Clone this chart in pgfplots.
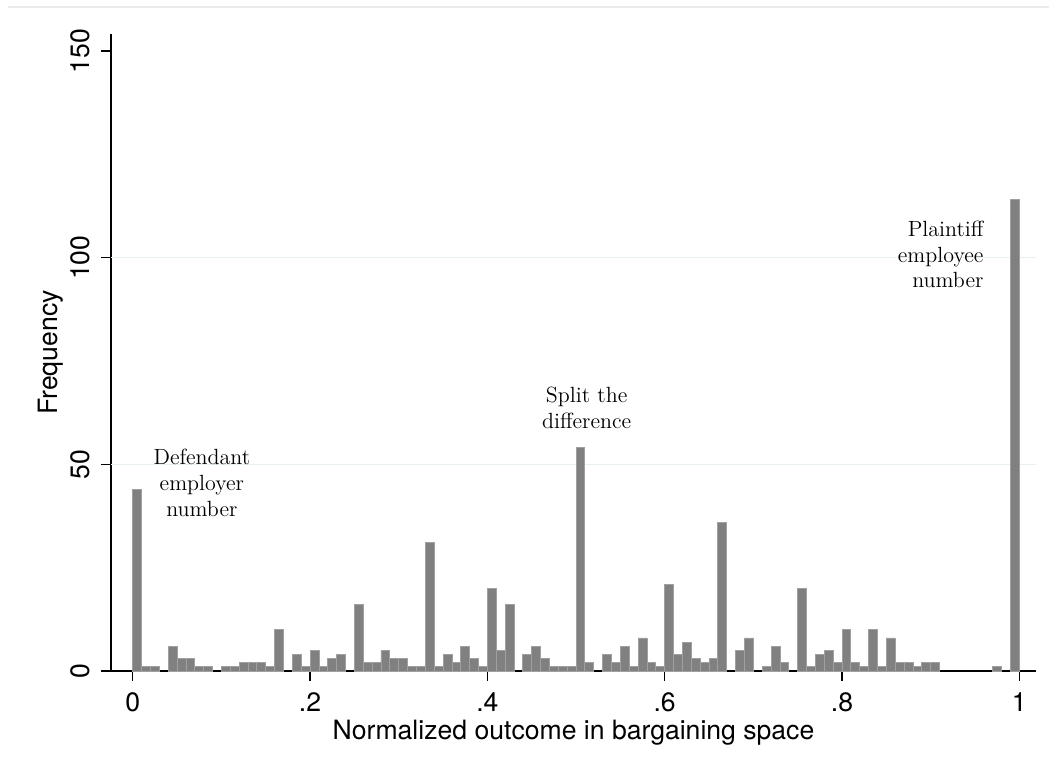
\documentclass[border=0pt]{standalone}
\usepackage{pgfplots}
\pgfplotsset{compat=1.18}
\usepackage{fontspec}
\usepackage{graphicx}
\newfontfamily\hel{TeX Gyre Heros}
\definecolor{barc}{RGB}{128,128,128}
\definecolor{gridc}{RGB}{232,240,242}
\begin{document}
\begin{tikzpicture}
\begin{axis}[
  scale only axis, width=462.5pt, height=318.5pt,
  xmin=-0.0245, xmax=1.0188, ymin=0, ymax=154.1,
  axis x line*=bottom, axis y line*=left,
  axis line style={line width=0.6pt},
  xtick={0,0.2,0.4,0.6,0.8,1}, xticklabels={0,.2,.4,.6,.8,1},
  ytick={0,50,100,150},
  yticklabel={\rotatebox{90}{\pgfmathprintnumber{\tick}}},
  extra y ticks={50,100}, extra y tick labels={},
  extra y tick style={grid=major, major tick length=0pt},
  major grid style={gridc, line width=0.8pt},
  tick align=outside, major tick length=5pt,
  tick style={black, line width=0.6pt},
  minor tick num=0,
  /pgf/number format/assume math mode=true,
  ticklabel style={font=\hel\fontsize{13.3}{16}\selectfont},
  yticklabel style={anchor=east, inner sep=0pt, xshift=-5.5pt},
  xticklabel style={anchor=north, inner sep=0pt, yshift=-5.5pt},
  xlabel={Normalized outcome in bargaining space},
  ylabel={Frequency},
  label style={font=\hel\fontsize{13.3}{16}\selectfont},
  xlabel style={at={(axis description cs:0.5,0)}, anchor=base, yshift=-34.5pt, inner sep=0pt},
  ylabel style={at={([xshift=-30pt]axis description cs:0,0.5)}, anchor=center},
  clip=false,
]
\addplot[ybar, bar width=0.01, bar shift=0pt, fill=barc, draw=barc!75!white, line width=0.4pt]
coordinates {
(0.005,44)(0.015,1)(0.025,1)(0.045,6)(0.055,3)(0.065,3)(0.075,1)(0.085,1)
(0.105,1)(0.115,1)(0.125,2)(0.135,2)(0.145,2)(0.155,1)(0.165,10)(0.185,4)
(0.195,1)(0.205,5)(0.215,1)(0.225,3)(0.235,4)(0.255,16)(0.265,2)(0.275,2)
(0.285,5)(0.295,3)(0.305,3)(0.315,1)(0.325,1)(0.335,31)(0.345,1)(0.355,4)
(0.365,2)(0.375,6)(0.385,3)(0.395,1)(0.405,20)(0.415,5)(0.425,16)(0.445,4)
(0.455,6)(0.465,3)(0.475,1)(0.485,1)(0.495,1)(0.505,54)(0.515,2)(0.535,4)
(0.545,2)(0.555,6)(0.565,1)(0.575,8)(0.585,2)(0.595,1)(0.605,21)(0.615,4)
(0.625,7)(0.635,3)(0.645,2)(0.655,3)(0.665,36)(0.685,5)(0.695,8)(0.715,1)
(0.725,6)(0.735,2)(0.755,20)(0.765,1)(0.775,4)(0.785,5)(0.795,2)(0.805,10)
(0.815,2)(0.825,1)(0.835,10)(0.845,1)(0.855,8)(0.865,2)(0.875,2)(0.885,1)
(0.895,2)(0.905,2)(0.975,1)(0.995,114)
};
\node[align=center, font=\fontsize{11}{12.8}\selectfont, inner sep=0pt] at (axis cs:0.078,45.5) {Defendant\\employer\\number};
\node[align=center, font=\fontsize{11}{12.8}\selectfont, inner sep=0pt] at (axis cs:0.512,63.6) {Split the\\difference};
\node[align=right, anchor=east, font=\fontsize{11}{12.8}\selectfont, inner sep=0pt] at (axis cs:0.960,100.7) {Plaintiff\\employee\\number};
\end{axis}
\draw[black!8, line width=0.8pt] ([xshift=-51.5pt,yshift=13.5pt]current axis.north west) -- ([xshift=6.5pt,yshift=13.5pt]current axis.north east);
\pgfresetboundingbox
\path ([xshift=-55.5pt,yshift=-48.5pt]current axis.south west) rectangle ([xshift=6.5pt,yshift=17pt]current axis.north east);
\end{tikzpicture}
\end{document}
